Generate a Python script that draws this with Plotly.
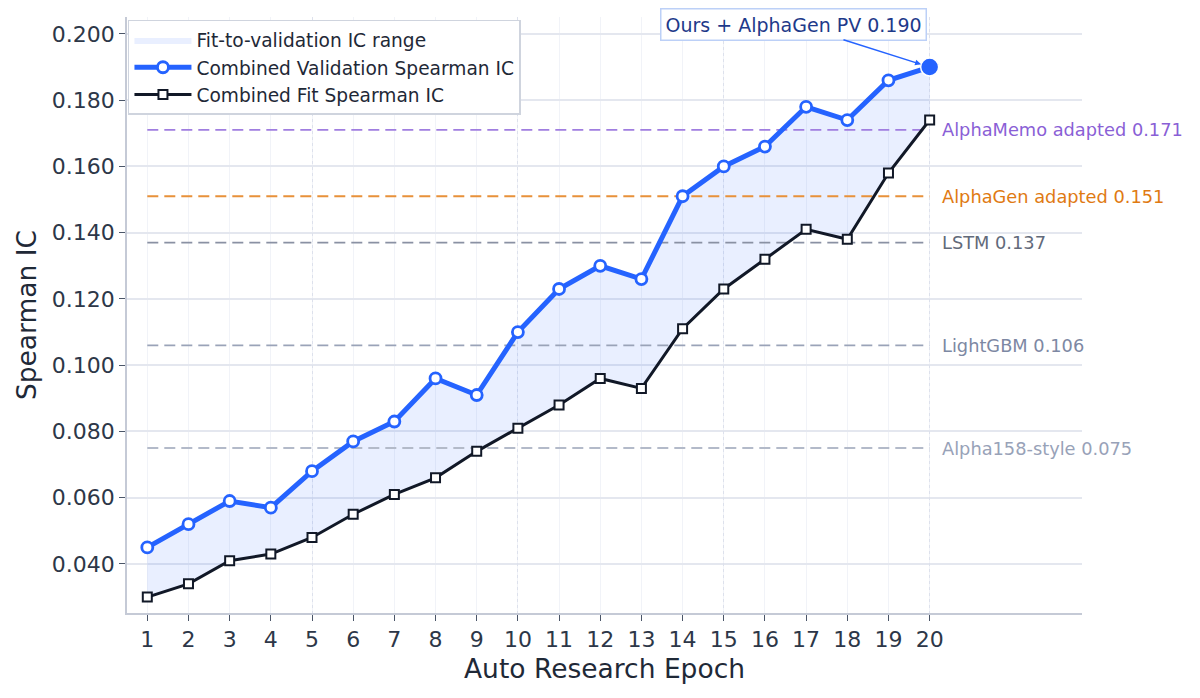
import plotly.graph_objects as go

# 数据
epochs = list(range(1, 21))
val_ic = [0.045, 0.052, 0.059, 0.057, 0.068, 0.077, 0.083, 0.096, 0.091, 0.110,
          0.123, 0.130, 0.126, 0.151, 0.160, 0.166, 0.178, 0.174, 0.186, 0.190]
fit_ic = [0.030, 0.034, 0.041, 0.043, 0.048, 0.055, 0.061, 0.066, 0.074, 0.081,
          0.088, 0.096, 0.093, 0.111, 0.123, 0.132, 0.141, 0.138, 0.158, 0.174]

baseline_names = ["AlphaMemo adapted", "AlphaGen adapted", "LSTM", "LightGBM", "Alpha158-style"]
baseline_values = [0.171, 0.151, 0.137, 0.106, 0.075]
baseline_line_colors = ["#a07ee0", "#e8913a", "#8a91a3", "#9aa3b8", "#b3bac9"]
baseline_text_colors = ["#8a5fd6", "#e07a12", "#626a7a", "#7d88a3", "#98a2b8"]

highlight_label = "Ours + AlphaGen PV"

BLUE = "#2563ff"
DARK = "#111827"
FONT = "DejaVu Sans"

fig = go.Figure()

# 填充区域（先画下边界）
fig.add_trace(go.Scatter(
    x=epochs, y=fit_ic, mode="lines", line=dict(width=0, color="rgba(0,0,0,0)"),
    showlegend=False, hoverinfo="skip"
))
fig.add_trace(go.Scatter(
    x=epochs, y=val_ic, mode="lines", line=dict(width=0, color="rgba(0,0,0,0)"),
    fill="tonexty", fillcolor="rgba(37,99,255,0.10)",
    name="Fit-to-validation IC range", hoverinfo="skip"
))

# 基准虚线
for name, v, lc, tc in zip(baseline_names, baseline_values, baseline_line_colors, baseline_text_colors):
    fig.add_trace(go.Scatter(
        x=[epochs[0], epochs[-1]], y=[v, v], mode="lines",
        line=dict(color=lc, width=1.8, dash="11px,6px"),
        showlegend=False, hoverinfo="skip"
    ))
    fig.add_annotation(
        x=epochs[-1], y=v, xref="x", yref="y", text=f"{name} {v:.3f}",
        showarrow=False, xanchor="left", yanchor="middle", xshift=10,
        font=dict(family=FONT, size=17.8, color=tc)
    )

# 主曲线
fig.add_trace(go.Scatter(
    x=epochs, y=val_ic, mode="lines+markers",
    name="Combined Validation Spearman IC",
    line=dict(color=BLUE, width=5),
    marker=dict(symbol="circle", size=11, color="white", line=dict(color=BLUE, width=2.8))
))
fig.add_trace(go.Scatter(
    x=epochs, y=fit_ic, mode="lines+markers",
    name="Combined Fit Spearman IC",
    line=dict(color=DARK, width=3),
    marker=dict(symbol="square", size=9, color="white", line=dict(color=DARK, width=2))
))

# 最终点高亮
fig.add_trace(go.Scatter(
    x=[epochs[-1]], y=[val_ic[-1]], mode="markers", showlegend=False,
    marker=dict(size=18, color=BLUE, line=dict(color="white", width=1.5)),
    hoverinfo="skip"
))
fig.add_annotation(
    x=epochs[-1], y=val_ic[-1], xref="x", yref="y",
    text=f"{highlight_label} {val_ic[-1]:.3f}",
    showarrow=True, ax=-136, ay=-43, arrowhead=2, arrowsize=0.8, arrowwidth=1.5,
    arrowcolor=BLUE, standoff=9,
    bgcolor="white", bordercolor="#bcd0f7", borderwidth=1.5, borderpad=4,
    font=dict(family=FONT, size=19, color="#1e3a8a")
)

# 每5个epoch的虚线网格（辅助x轴）
fig.add_trace(go.Scatter(
    x=[epochs[0]], y=[val_ic[0]], xaxis="x2", mode="markers",
    marker=dict(opacity=0), showlegend=False, hoverinfo="skip"
))

xrange = [0.507, 23.7]
fig.update_layout(
    width=1192, height=690,
    margin=dict(l=119, r=118, t=9, b=85),
    paper_bgcolor="white", plot_bgcolor="white",
    font=dict(family=FONT, color="#2d3748"),
    showlegend=True,
    legend=dict(
        x=0.001, y=0.995, xanchor="left", yanchor="top",
        bgcolor="white", bordercolor="#cfd4de", borderwidth=1.5,
        font=dict(family=FONT, size=18.6, color="#1f2937"),
        traceorder="normal", itemwidth=57, tracegroupgap=0
    ),
    xaxis=dict(
        range=xrange, tickmode="array", tickvals=epochs,
        showgrid=True, gridcolor="#f1f3f8", gridwidth=1,
        showline=True, linecolor="#c5cad6", linewidth=1.5,
        ticks="outside", ticklen=6, tickwidth=1.3, tickcolor="#4a5568",
        tickfont=dict(size=22, color="#2d3748"), zeroline=False,
        title=dict(text="Auto Research Epoch", font=dict(size=26.5, color="#1f2937"), standoff=8)
    ),
    xaxis2=dict(
        range=xrange, overlaying="x", tick0=0, dtick=5,
        showgrid=True, gridcolor="#dde1ec", griddash="dot", gridwidth=1,
        showticklabels=False, ticks="", showline=False, zeroline=False
    ),
    yaxis=dict(
        range=[0.0252, 0.2051], tick0=0, dtick=0.02, tickformat=".3f",
        showgrid=True, gridcolor="#e4e7ef", gridwidth=1.5,
        showline=True, linecolor="#c5cad6", linewidth=1.5,
        ticks="outside", ticklen=6, tickwidth=1.3, tickcolor="#4a5568",
        tickfont=dict(size=22, color="#2d3748"), zeroline=False,
        title=dict(text="Spearman IC", font=dict(size=26.5, color="#1f2937"), standoff=8)
    ),
)

fig.write_html("out.html")
